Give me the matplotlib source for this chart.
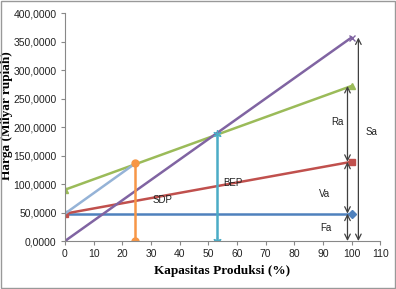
import matplotlib
matplotlib.use("Agg")
import matplotlib.pyplot as plt
from matplotlib.ticker import FuncFormatter
from matplotlib.patches import Rectangle

# Data
x_ends = [0, 100]
fixed_cost = [48000, 48000]          # Fa
total_cost = [48000, 139000]         # BEP line (red)
sdp_line = [90000, 272000]           # green
sales = [0, 357000]                  # purple
sdp_x = [0, 24.5]
sdp_y = [48000, 136000]              # light blue
sdp_vert_x = [24.5, 24.5]
sdp_vert_y = [0, 136000]
bep_vert_x = [53, 53]
bep_vert_y = [0, 187000]

arrow_x = 98.6
arrow_sa_x = 102.4
labels = ["SDP", "BEP", "Ra", "Sa", "Va", "Fa"]
label_pos = [(34, 72000), (58.5, 101000), (95, 209000), (107, 191000), (90.6, 82000), (91, 23000)]

fig = plt.figure(figsize=(3.96, 2.89), dpi=100)
ax = fig.add_axes([0.164, 0.166, 0.796, 0.789])

ax.plot(x_ends, fixed_cost, color="#4f81bd", lw=1.8, marker="D", ms=4, markevery=[1])
ax.plot(x_ends, total_cost, color="#c0504d", lw=1.8, marker="s", ms=5)
ax.plot(x_ends, sdp_line, color="#9bbb59", lw=1.8, marker="^", ms=5)
ax.plot(x_ends, sales, color="#8064a2", lw=1.8, marker="x", ms=5, mew=1)
ax.plot(sdp_x, sdp_y, color="#95b3d7", lw=1.8)
ax.plot(sdp_vert_x, sdp_vert_y, color="#f79646", lw=1.8, marker="o", ms=5)
ax.plot(bep_vert_x, bep_vert_y, color="#4bacc6", lw=1.8, marker=(6, 2, 0), ms=6, mew=0.9)

ap = dict(arrowstyle="<->", color="#404040", lw=0.9, shrinkA=0, shrinkB=0)
ax.annotate("", xy=(arrow_x, total_cost[1]), xytext=(arrow_x, sdp_line[1]), arrowprops=ap)
ax.annotate("", xy=(arrow_x, fixed_cost[1]), xytext=(arrow_x, total_cost[1]), arrowprops=ap)
ax.annotate("", xy=(arrow_x, 0), xytext=(arrow_x, fixed_cost[1]), arrowprops=ap)
ax.annotate("", xy=(arrow_sa_x, 0), xytext=(arrow_sa_x, sales[1]), arrowprops=ap)

for t, (px, py) in zip(labels, label_pos):
    ax.text(px, py, t, fontsize=7, family="Liberation Sans", ha="center", va="center", color="#222222")

ax.set_xlim(0, 110)
ax.set_ylim(0, 400000)
ax.set_xticks(range(0, 111, 10))
ax.set_yticks(range(0, 400001, 50000))
ax.yaxis.set_major_formatter(FuncFormatter(lambda v, p: f"{int(round(v / 1000))},0000"))
for lab in ax.get_xticklabels() + ax.get_yticklabels():
    lab.set_family("Liberation Sans")
    lab.set_fontsize(7.5)
ax.tick_params(axis="both", length=3, color="#888888", width=0.8, labelcolor="#222222", pad=3)
ax.spines["top"].set_visible(False)
ax.spines["right"].set_visible(False)
ax.spines["left"].set_color("#888888")
ax.spines["bottom"].set_color("#888888")
ax.set_xlabel("Kapasitas Produksi (%)", family="Liberation Serif", fontweight="bold", fontsize=9.5)
ax.xaxis.set_label_coords(0.5, -0.105)
ax.set_ylabel("Harga (Milyar rupiah)", family="Liberation Serif", fontweight="bold", fontsize=9.5)
ax.yaxis.set_label_coords(-0.165, 0.55)

fig.patches.append(Rectangle((0.002, 0.003), 0.996, 0.994, transform=fig.transFigure,
                             fill=False, edgecolor="#999999", lw=1))

fig.savefig("out.png", dpi=100)
